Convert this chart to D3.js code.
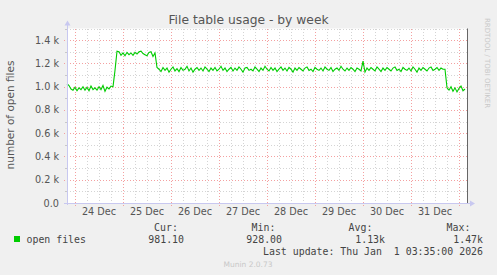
<!DOCTYPE html>
<meta charset="utf-8">
<style>
    body { margin: 0; background: #f0f0f0; }
    svg { display: block; }
    .txt { font-family: "DejaVu Sans", sans-serif; fill: #555; }
    .mono { font-family: "DejaVu Sans Mono", monospace; fill: #444; }
</style>

<body>
    <script src="https://d3js.org/d3.v7.min.js"></script>
    <script>
        // hourly samples starting 23 Dec 20:00
        var startTime = "2025-12-23T20:00:00Z";
        var endTime = "2026-01-01T04:00:00Z";
        var openFiles = [
            1025, 1010, 980, 970, 995, 965, 990, 975, 1000, 970,
            995, 965, 1005, 975, 990, 970, 1000, 975, 1010, 960,
            995, 980, 1005, 1000, 1140,
            1305, 1300, 1270, 1290, 1265, 1295, 1275, 1290, 1270, 1295,
            1280, 1300, 1305, 1285, 1275, 1265, 1295, 1300, 1260, 1290,
            1165,
            1150, 1130, 1165, 1140, 1160, 1125, 1150, 1170, 1135, 1155,
            1130, 1165, 1140, 1150, 1175, 1135, 1160, 1125, 1150, 1165,
            1140, 1160, 1135, 1170, 1150, 1130, 1160, 1140, 1165, 1135,
            1150, 1175, 1140, 1160, 1130, 1150, 1165, 1135, 1160, 1140,
            1170, 1150, 1125, 1160, 1165, 1140, 1150, 1135, 1170, 1150,
            1130, 1160, 1140, 1175, 1150, 1135, 1165, 1140, 1160, 1130,
            1150, 1170, 1140, 1160, 1135, 1165, 1150, 1125, 1160, 1140,
            1165, 1150, 1135, 1160, 1170, 1140, 1150, 1130, 1165, 1150,
            1140, 1160, 1135, 1170, 1150, 1140, 1165, 1130, 1150, 1160,
            1140, 1175, 1150, 1135, 1160, 1140, 1165, 1150, 1130, 1160,
            1150, 1135, 1220, 1125, 1160, 1140, 1165, 1150, 1135, 1170,
            1150, 1130, 1160, 1140, 1165, 1150, 1135, 1160, 1170, 1140,
            1150, 1130, 1165, 1150, 1140, 1160, 1135, 1170, 1150, 1125,
            1160, 1140, 1165, 1150, 1135, 1160, 1170, 1140, 1150, 1165,
            1140, 1160, 1150, 1150,
            990, 970, 1000, 960, 990, 955, 985, 1005, 965, 980
        ];
        var yTicks = [0, 200, 400, 600, 800, 1000, 1200, 1400];
        var yLabels = ["0.0", "0.2 k", "0.4 k", "0.6 k", "0.8 k", "1.0 k", "1.2 k", "1.4 k"];
        var legendHeaders = ["Cur:", "Min:", "Avg:", "Max:"];
        var legendValues = ["981.10", "928.00", "1.13k", "1.47k"];

        var W = 497, H = 275;
        var plot = { left: 67, right: 467, top: 28.5, bottom: 203 };

        var svg = d3.select("body").append("svg")
            .attr("width", W)
            .attr("height", H);

        svg.append("rect").attr("width", W).attr("height", H).attr("fill", "#f0f0f0");

        var x = d3.scaleUtc()
            .domain([new Date(startTime), new Date(endTime)])
            .range([plot.left, plot.right]);
        var y = d3.scaleLinear()
            .domain([0, 1500])
            .range([plot.bottom, plot.top]);

        // plot background
        svg.append("rect")
            .attr("x", plot.left).attr("y", plot.top)
            .attr("width", plot.right - plot.left)
            .attr("height", plot.bottom - plot.top)
            .attr("fill", "#fff");

        var grid = svg.append("g").attr("shape-rendering", "crispEdges");

        // minor vertical grid, every 6 hours
        var minorX = d3.utcHour.every(6).range(x.domain()[0], x.domain()[1]);
        grid.selectAll(".vminor")
            .data(minorX.filter(d => d.getUTCHours() != 0))
            .enter().append("line")
            .attr("x1", d => Math.round(x(d)) + 0.5).attr("x2", d => Math.round(x(d)) + 0.5)
            .attr("y1", plot.top).attr("y2", plot.bottom)
            .attr("stroke", "#d4d4d4").attr("stroke-dasharray", "1,2");

        // minor horizontal grid, every 100
        grid.selectAll(".hminor")
            .data(d3.range(100, 1600, 200))
            .enter().append("line")
            .attr("x1", plot.left).attr("x2", plot.right)
            .attr("y1", d => Math.round(y(d)) + 0.5).attr("y2", d => Math.round(y(d)) + 0.5)
            .attr("stroke", "#d4d4d4").attr("stroke-dasharray", "1,2");

        // major grid (red)
        var days = d3.utcDay.range(x.domain()[0], x.domain()[1]);
        grid.selectAll(".vmajor")
            .data(days)
            .enter().append("line")
            .attr("x1", d => Math.round(x(d)) + 0.5).attr("x2", d => Math.round(x(d)) + 0.5)
            .attr("y1", plot.top).attr("y2", plot.bottom + 3)
            .attr("stroke", "#f4a0a0").attr("stroke-dasharray", "1,2");
        grid.selectAll(".hmajor")
            .data(yTicks.slice(1))
            .enter().append("line")
            .attr("x1", plot.left - 3).attr("x2", plot.right)
            .attr("y1", d => Math.round(y(d)) + 0.5).attr("y2", d => Math.round(y(d)) + 0.5)
            .attr("stroke", "#f4a0a0").attr("stroke-dasharray", "1,2");

        // small ticks on the left for minor values
        grid.selectAll(".ytickminor")
            .data(d3.range(100, 1600, 200))
            .enter().append("line")
            .attr("x1", plot.left - 2).attr("x2", plot.left)
            .attr("y1", d => Math.round(y(d)) + 0.5).attr("y2", d => Math.round(y(d)) + 0.5)
            .attr("stroke", "#c8c8c8");

        // data line
        var line = d3.line()
            .x((d, i) => x(d3.utcHour.offset(new Date(startTime), i)))
            .y(d => y(d));
        svg.append("path")
            .datum(openFiles)
            .attr("d", line)
            .attr("fill", "none")
            .attr("stroke", "#00cc00")
            .attr("stroke-width", 1.1);

        // axes lines
        var axisCol = "#c8c8f0";
        svg.append("line")
            .attr("x1", plot.left + 0.5).attr("x2", plot.left + 0.5)
            .attr("y1", plot.bottom + 2).attr("y2", plot.top - 5)
            .attr("stroke", axisCol);
        svg.append("path")
            .attr("d", "M" + (plot.left - 2.5) + "," + (plot.top - 3) + "L" + (plot.left + 0.5) + "," + (plot.top - 8) + "L" + (plot.left + 3.5) + "," + (plot.top - 3) + "Z")
            .attr("fill", axisCol);
        svg.append("line")
            .attr("x1", plot.left - 3).attr("x2", plot.right + 5)
            .attr("y1", plot.bottom + 0.5).attr("y2", plot.bottom + 0.5)
            .attr("stroke", axisCol);
        svg.append("path")
            .attr("d", "M" + (plot.right + 3) + "," + (plot.bottom - 2.5) + "L" + (plot.right + 8) + "," + (plot.bottom + 0.5) + "L" + (plot.right + 3) + "," + (plot.bottom + 3.5) + "Z")
            .attr("fill", axisCol);
        // right frame
        svg.append("line")
            .attr("x1", plot.right + 0.5).attr("x2", plot.right + 0.5)
            .attr("y1", plot.top).attr("y2", plot.bottom)
            .attr("stroke", "#666");

        // y labels
        svg.append("g").selectAll("text")
            .data(yTicks)
            .enter().append("text")
            .attr("class", "txt")
            .attr("x", 59)
            .attr("y", d => y(d) + 3.5)
            .attr("text-anchor", "end")
            .attr("font-size", "9.7px")
            .text((d, i) => yLabels[i]);

        // x labels, centered at noon (only days whose noon is inside the range)
        var fmt = d3.utcFormat("%d %b");
        svg.append("g").selectAll("text")
            .data(days.filter(d => d3.utcHour.offset(d, 12) < x.domain()[1]))
            .enter().append("text")
            .attr("class", "txt")
            .attr("x", d => x(d3.utcHour.offset(d, 12)))
            .attr("y", 215)
            .attr("text-anchor", "middle")
            .attr("font-size", "9.7px")
            .text(d => fmt(d));

        // title
        svg.append("text")
            .attr("class", "txt")
            .attr("x", 248.5).attr("y", 24)
            .attr("text-anchor", "middle")
            .attr("font-size", "12.3px")
            .attr("fill", "#666")
            .text("File table usage - by week");

        // y axis title
        svg.append("text")
            .attr("class", "txt")
            .attr("transform", "translate(14,115) rotate(-90)")
            .attr("text-anchor", "middle")
            .attr("font-size", "10.5px")
            .text("number of open files");

        // vertical watermark
        svg.append("text")
            .attr("transform", "translate(485,63) rotate(90)")
            .attr("text-anchor", "middle")
            .attr("font-family", "DejaVu Sans, sans-serif")
            .attr("font-size", "7px")
            .attr("fill", "#c8c8c8")
            .text("RRDTOOL / TOBI OETIKER");

        // legend
        var colCenters = [166, 263.5, 360.5, 458.5];
        var valueRight = [184, 282, 385, 483];
        svg.append("rect")
            .attr("x", 14).attr("y", 236).attr("width", 6).attr("height", 6)
            .attr("fill", "#00cc00");
        svg.append("text").attr("class", "mono")
            .attr("x", 26.5).attr("y", 242.5)
            .attr("font-size", "9.9px")
            .text("open files");
        svg.append("g").selectAll("text")
            .data(legendHeaders)
            .enter().append("text").attr("class", "mono")
            .attr("x", (d, i) => colCenters[i]).attr("y", 231)
            .attr("text-anchor", "middle")
            .attr("font-size", "9.9px")
            .text(d => d);
        svg.append("g").selectAll("text")
            .data(legendValues)
            .enter().append("text").attr("class", "mono")
            .attr("x", (d, i) => valueRight[i]).attr("y", 242.5)
            .attr("text-anchor", "end")
            .attr("font-size", "9.9px")
            .text(d => d);
        svg.append("text").attr("class", "mono")
            .attr("x", 483).attr("y", 254.5)
            .attr("text-anchor", "end")
            .attr("font-size", "9.9px")
            .attr("xml:space", "preserve")
            .style("white-space", "pre")
            .text("Last update: Thu Jan  1 03:35:00 2026");

        svg.append("text")
            .attr("x", 248).attr("y", 267)
            .attr("text-anchor", "middle")
            .attr("font-family", "DejaVu Sans, sans-serif")
            .attr("font-size", "7.5px")
            .attr("fill", "#c8c8c8")
            .text("Munin 2.0.73");
    </script>
</body>
